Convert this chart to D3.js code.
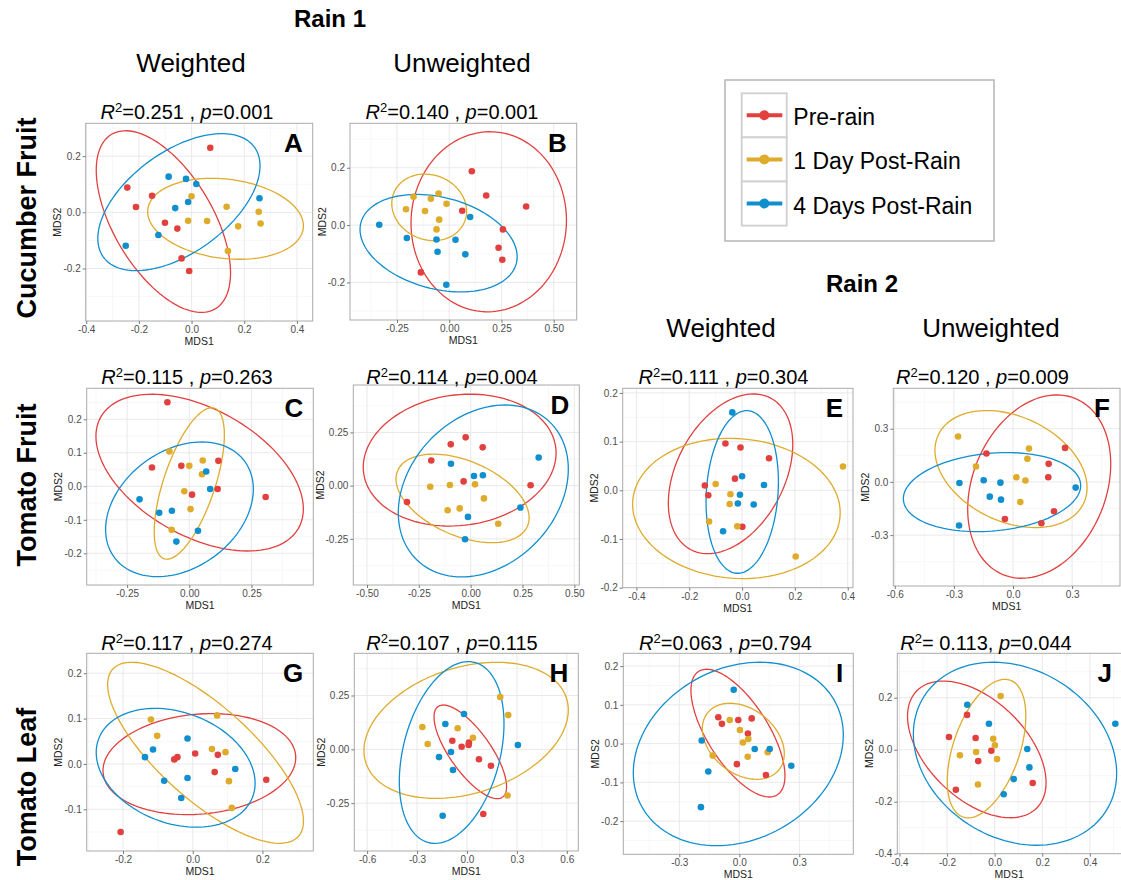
<!DOCTYPE html>
<html>
<head>
<meta charset="utf-8">
<script src="https://cdn.jsdelivr.net/npm/d3@7"></script>
<style>
  body { margin: 0; background: #fff; }
  svg { display: block; font-family: "Liberation Sans", Arial, Helvetica, sans-serif; }
</style>
</head>
<body>
<svg id="chart" width="1121" height="880"></svg>
<script>
// Sample groups and their colours
const groups = ["Pre-rain", "1 Day Post-Rain", "4 Days Post-Rain"];
const groupColors = ["#e2403f", "#dfab2a", "#108fcf"];

// Ellipses: [centre x, centre y, half width, half height, x offset of topmost point], ordered as groups

// A: Cucumber fruit, rain 1, weighted
const aPre  = [[0.071,0.230],[-0.244,0.088],[-0.211,0.019],[-0.150,0.059],[-0.101,-0.037],[-0.054,-0.058],[-0.038,-0.164],[-0.009,-0.209]];
const aDay1 = [[0.000,0.057],[0.133,0.020],[-0.013,-0.030],[0.059,-0.031],[0.177,-0.050],[0.255,0.002],[0.262,-0.040],[0.138,-0.138]];
const aDay4 = [[-0.087,0.127],[-0.021,0.119],[0.018,0.101],[-0.013,0.037],[-0.062,0.015],[-0.126,-0.081],[-0.250,-0.119],[0.258,0.050]];
const aEllipses = [[-0.107,-0.033,0.255,0.3235,-0.144],[0.129,-0.023,0.2957,0.1442,-0.052],[-0.048,0.0362,0.308,0.244,0.163]];

// B: Cucumber fruit, rain 1, unweighted
const bPre  = [[0.108,0.188],[0.177,0.103],[0.368,0.065],[0.062,0.050],[0.257,-0.015],[0.236,-0.079],[0.254,-0.121],[-0.136,-0.165]];
const bDay1 = [[-0.171,0.099],[-0.051,0.110],[-0.088,0.092],[-0.013,0.074],[-0.207,0.055],[-0.116,0.049],[-0.048,0.019],[-0.061,-0.015]];
const bDay4 = [[-0.335,0.001],[0.100,0.028],[-0.203,-0.045],[-0.061,-0.050],[0.030,-0.051],[-0.056,-0.093],[0.077,-0.102],[-0.014,-0.208]];
const bEllipses = [[0.189,0.0116,0.372,0.314,0.006],[-0.096,0.062,0.179,0.116,-0.021],[-0.051,-0.063,0.376,0.170,-0.105]];

// C: Tomato fruit, rain 1, weighted
const cPre  = [[-0.088,0.251],[-0.150,0.056],[-0.032,0.061],[0.117,0.076],[0.114,-0.008],[0.011,-0.025],[0.307,-0.032]];
const cDay1 = [[-0.080,0.104],[0.000,0.061],[0.054,0.077],[0.051,0.036],[-0.020,-0.015],[0.005,-0.068],[-0.071,-0.130]];
const cDay4 = [[0.068,0.044],[0.084,-0.008],[-0.200,-0.039],[-0.121,-0.079],[-0.070,-0.073],[0.035,-0.133],[-0.052,-0.165]];
const cEllipses = [[0.0416,0.0408,0.417,0.234,-0.193],[0.0,0.0085,0.141,0.226,0.090],[-0.0395,-0.0687,0.297,0.201,0.089]];

// D: Tomato fruit, rain 1, unweighted
const dPre  = [[-0.024,0.227],[-0.096,0.194],[0.058,0.180],[-0.190,0.118],[-0.034,0.020],[0.289,0.002],[-0.307,-0.077]];
const dDay1 = [[-0.195,-0.005],[-0.100,0.003],[0.021,0.006],[0.064,-0.060],[-0.053,-0.107],[-0.111,-0.116],[0.133,-0.179]];
const dDay4 = [[0.328,0.132],[-0.095,0.103],[0.016,0.045],[0.059,0.049],[0.240,-0.103],[-0.013,-0.147],[-0.027,-0.252]];
const dEllipses = [[-0.053,0.120,0.465,0.310,0.050],[-0.039,-0.060,0.321,0.208,-0.141],[0.061,-0.025,0.410,0.404,0.1045]];

// E: Tomato fruit, rain 2, weighted
const ePre  = [[-0.063,0.096],[-0.006,0.088],[0.102,0.066],[-0.027,0.024],[-0.141,0.010],[-0.128,-0.010],[0.001,-0.075]];
const eDay1 = [[0.382,0.049],[-0.100,0.013],[-0.044,-0.008],[-0.047,-0.028],[-0.125,-0.064],[-0.018,-0.074],[0.203,-0.136]];
const eDay4 = [[-0.037,0.160],[0.000,0.029],[0.083,0.011],[-0.008,-0.009],[-0.016,-0.027],[0.044,-0.029],[-0.072,-0.084]];
const eEllipses = [[-0.0436,0.0339,0.2356,0.164,0.0865],[-0.0215,-0.0373,0.393,0.144,-0.024],[0.0006,-0.0034,0.137,0.167,0.017]];

// F: Tomato fruit, rain 2, unweighted
const fPre  = [[0.264,0.192],[-0.135,0.160],[0.181,0.102],[0.179,0.026],[0.208,-0.166],[-0.041,-0.209],[0.144,-0.233]];
const fDay1 = [[-0.279,0.256],[0.081,0.188],[0.073,0.130],[-0.188,0.087],[0.017,0.026],[0.063,0.008],[0.037,-0.113]];
const fDay4 = [[-0.272,-0.006],[-0.149,0.009],[-0.064,-0.004],[-0.118,-0.083],[-0.061,-0.100],[0.318,-0.032],[-0.274,-0.246]];
const fEllipses = [[0.133,-0.0263,0.363,0.517,0.089],[-0.0102,0.0724,0.386,0.330,-0.1235],[-0.1066,-0.0574,0.450,0.223,0.0745]];

// G: Tomato leaf, rain 1, weighted
const gPre  = [[0.007,0.023],[-0.044,0.015],[-0.053,0.010],[0.072,0.020],[0.063,-0.018],[0.211,-0.035],[-0.207,-0.150]];
const gDay1 = [[-0.120,0.098],[0.070,0.107],[-0.102,0.062],[0.055,0.033],[0.094,0.026],[0.104,-0.038],[0.112,-0.097]];
const gDay4 = [[-0.015,0.056],[-0.114,0.032],[-0.137,0.015],[0.122,-0.011],[-0.082,-0.037],[-0.015,-0.031],[-0.033,-0.075]];
const gEllipses = [[0.019,-0.0004,0.2766,0.1114,0.0354],[0.0368,0.0246,0.281,0.1996,-0.212],[-0.049,-0.0085,0.228,0.131,-0.0589]];

// H: Tomato leaf, rain 1, unweighted
const hPre  = [[-0.088,0.040],[0.012,0.031],[0.010,0.020],[-0.032,0.012],[0.072,-0.046],[0.144,-0.076],[0.098,-0.300]];
const hDay1 = [[0.200,0.243],[0.248,0.159],[-0.268,0.104],[-0.056,0.098],[0.036,0.054],[-0.236,0.025],[0.244,-0.214]];
const hDay4 = [[-0.018,0.164],[-0.130,0.118],[0.306,0.020],[-0.096,-0.012],[-0.168,-0.036],[-0.084,-0.096],[-0.146,-0.308]];
const hEllipses = [[0.020,-0.0116,0.218,0.2175,-0.162],[-0.005,0.0882,0.614,0.316,0.183],[-0.092,-0.0147,0.3145,0.422,0.100]];

// I: Tomato leaf, rain 2, weighted
const iPre  = [[-0.105,0.068],[-0.087,0.051],[-0.005,0.061],[0.062,0.065],[0.043,0.026],[-0.012,-0.053],[0.133,-0.081]];
const iDay1 = [[-0.048,0.061],[0.003,0.035],[0.045,0.012],[0.018,0.003],[-0.133,-0.031],[0.042,-0.034],[0.142,-0.022]];
const iDay4 = [[-0.028,0.139],[-0.188,0.008],[0.077,-0.014],[0.152,-0.014],[0.260,-0.057],[-0.155,-0.072],[-0.192,-0.164]];
const iEllipses = [[-0.0067,0.0271,0.235,0.1648,-0.157],[0.020,0.006,0.205,0.0981,-0.0667],[-0.005,-0.0267,0.525,0.2367,0.108]];

// J: Tomato leaf, rain 2, unweighted
const jPre  = [[-0.116,0.134],[-0.192,0.049],[-0.080,0.045],[-0.014,-0.004],[-0.069,-0.044],[0.160,-0.128],[-0.163,-0.154]];
const jDay1 = [[0.025,0.207],[-0.006,0.042],[0.001,0.017],[-0.078,-0.009],[-0.146,-0.021],[0.010,-0.036],[-0.070,-0.134]];
const jDay4 = [[-0.115,0.173],[-0.024,0.100],[0.137,0.003],[0.146,-0.068],[0.080,-0.113],[0.038,-0.171],[0.507,0.100]];
const jEllipses = [[-0.075,0.0013,0.291,0.263,-0.141],[-0.034,0.0045,0.165,0.2665,0.077],[0.0855,-0.0154,0.427,0.352,-0.091]];

// PERMANOVA statistics shown above each panel
const r2Labels = ["=0.251 , ", "=0.140 , ", "=0.115 , ", "=0.114 , ", "=0.111 , ", "=0.120 , ", "=0.117 , ", "=0.107 , ", "=0.063 , ", "= 0.113, "];
const pLabels  = ["=0.001", "=0.001", "=0.263", "=0.004", "=0.304", "=0.009", "=0.274", "=0.115", "=0.794", "=0.044"];

// Axis tick labels
const xTickLabels = [
  ["-0.4","-0.2","0.0","0.2","0.4"],
  ["-0.25","0.00","0.25","0.50"],
  ["-0.25","0.00","0.25"],
  ["-0.50","-0.25","0.00","0.25","0.50"],
  ["-0.4","-0.2","0.0","0.2","0.4"],
  ["-0.6","-0.3","0.0","0.3"],
  ["-0.2","0.0","0.2"],
  ["-0.6","-0.3","0.0","0.3","0.6"],
  ["-0.3","0.0","0.3"],
  ["-0.4","-0.2","0.0","0.2","0.4"]
];
const yTickLabels = [
  ["-0.2","0.0","0.2"],
  ["-0.2","0.0","0.2"],
  ["-0.2","-0.1","0.0","0.1","0.2"],
  ["-0.25","0.00","0.25"],
  ["-0.2","-0.1","0.0","0.1","0.2"],
  ["-0.3","0.0","0.3"],
  ["-0.1","0.0","0.1","0.2"],
  ["-0.25","0.00","0.25"],
  ["-0.2","-0.1","0.0","0.1","0.2"],
  ["-0.4","-0.2","0.0","0.2"]
];

// Visible axis ranges
const xDomains = [[-0.402,0.46],[-0.475,0.61],[-0.4125,0.4986],[-0.566,0.524],[-0.452,0.42],[-0.6076,0.543],[-0.3043,0.346],[-0.677,0.669],[-0.58,0.57],[-0.409,0.535]];
const yDomains = [[-0.387,0.317],[-0.331,0.355],[-0.2946,0.2925],[-0.467,0.473],[-0.2,0.2095],[-0.587,0.528],[-0.192,0.244],[-0.472,0.446],[-0.2856,0.233],[-0.4,0.371]];

const panelLetters = ["A","B","C","D","E","F","G","H","I","J"];
const panelPoints = [
  [aPre,aDay1,aDay4],[bPre,bDay1,bDay4],[cPre,cDay1,cDay4],[dPre,dDay1,dDay4],[ePre,eDay1,eDay4],
  [fPre,fDay1,fDay4],[gPre,gDay1,gDay4],[hPre,hDay1,hDay4],[iPre,iDay1,iDay4],[jPre,jDay1,jDay4]
];
const panelEllipses = [aEllipses,bEllipses,cEllipses,dEllipses,eEllipses,fEllipses,gEllipses,hEllipses,iEllipses,jEllipses];

// Layout: panel rectangles [left, top, right, bottom] and title anchors
const panelBoxes = [
  [85.7,123.3,312.7,321],[350,123.3,576.7,320],
  [86.7,388.3,313.3,585],[353.3,385,579.3,585],[622.7,388.3,853,587.7],[893.3,388.3,1120,586],
  [86.7,653.3,313.3,851],[354.3,653.3,578.3,851],[623.3,653.3,853.3,854.3],[897.3,653.3,1122,853.7]
];
const titleAnchors = [[187,119],[452,119],[187,384],[452,384],[723.5,384],[982.5,384],[187,650],[452,650],[725.5,650],[986,650]];

const svg = d3.select("#chart");
const defs = svg.append("defs");

function ellipsePoints(e) {
  const [cx, cy, w, H, topDx] = e;
  const k = topDx * H / w;
  const h = Math.sqrt(Math.max(H * H - k * k, 0));
  return d3.range(0, 121).map(i => {
    const t = i / 120 * 2 * Math.PI;
    return [cx + w * Math.cos(t), cy + k * Math.cos(t) + h * Math.sin(t)];
  });
}

function minorValues(ticks, dom) {
  const step = ticks[1] - ticks[0];
  const out = [];
  for (let v = ticks[0] - step * 4.5; v <= dom[1] + 1e-9; v += step) {
    if (v >= dom[0]) out.push(v);
  }
  return out;
}

panelLetters.forEach((letter, i) => {
  const [x0, y0, x1, y1] = panelBoxes[i];
  const x = d3.scaleLinear().domain(xDomains[i]).range([x0, x1]);
  const y = d3.scaleLinear().domain(yDomains[i]).range([y1, y0]);
  const xt = xTickLabels[i].map(Number);
  const yt = yTickLabels[i].map(Number);
  const g = svg.append("g");

  defs.append("clipPath").attr("id", "clip-" + letter)
    .append("rect").attr("x", x0).attr("y", y0).attr("width", x1 - x0).attr("height", y1 - y0);

  g.append("rect").attr("x", x0).attr("y", y0).attr("width", x1 - x0).attr("height", y1 - y0).attr("fill", "#fff");

  const grid = g.append("g").attr("clip-path", `url(#clip-${letter})`);
  // minor grid
  grid.selectAll(".mx").data(minorValues(xt, xDomains[i])).join("line")
    .attr("x1", d => x(d)).attr("x2", d => x(d)).attr("y1", y0).attr("y2", y1)
    .attr("stroke", "#f3f3f3").attr("stroke-width", 0.7);
  grid.selectAll(".my").data(minorValues(yt, yDomains[i])).join("line")
    .attr("y1", d => y(d)).attr("y2", d => y(d)).attr("x1", x0).attr("x2", x1)
    .attr("stroke", "#f3f3f3").attr("stroke-width", 0.7);
  // major grid
  grid.selectAll(".gx").data(xt).join("line")
    .attr("x1", d => x(d)).attr("x2", d => x(d)).attr("y1", y0).attr("y2", y1)
    .attr("stroke", "#e6e6e6").attr("stroke-width", 0.9);
  grid.selectAll(".gy").data(yt).join("line")
    .attr("y1", d => y(d)).attr("y2", d => y(d)).attr("x1", x0).attr("x2", x1)
    .attr("stroke", "#e6e6e6").attr("stroke-width", 0.9);

  // ellipses
  const line = d3.line().x(d => x(d[0])).y(d => y(d[1])).curve(d3.curveLinearClosed);
  grid.selectAll(".ell").data(panelEllipses[i]).join("path")
    .attr("d", e => line(ellipsePoints(e)))
    .attr("fill", "none")
    .attr("stroke", (e, gi) => groupColors[gi])
    .attr("stroke-width", 1.3);

  // sample points
  panelPoints[i].forEach((pts, gi) => {
    grid.selectAll(".pt" + gi).data(pts).join("circle")
      .attr("cx", d => x(d[0])).attr("cy", d => y(d[1])).attr("r", 3.3)
      .attr("fill", groupColors[gi]);
  });

  // border
  g.append("rect").attr("x", x0).attr("y", y0).attr("width", x1 - x0).attr("height", y1 - y0)
    .attr("fill", "none").attr("stroke", "#ababab").attr("stroke-width", 1);

  // axes
  const xAxis = d3.axisBottom(x).tickValues(xt).tickFormat((d, k) => xTickLabels[i][k]).tickSize(3).tickPadding(2);
  const yAxis = d3.axisLeft(y).tickValues(yt).tickFormat((d, k) => yTickLabels[i][k]).tickSize(3).tickPadding(2);
  const gx = g.append("g").attr("transform", `translate(0,${y1})`).call(xAxis);
  const gy = g.append("g").attr("transform", `translate(${x0},0)`).call(yAxis);
  [gx, gy].forEach(ax => {
    ax.select(".domain").remove();
    ax.selectAll(".tick line").attr("stroke", "#7a7a7a");
    ax.selectAll(".tick text").attr("fill", "#4d4d4d")
      .style("font-size", "10px").style("font-family", "'Liberation Sans', Arial, sans-serif");
  });

  let maxW = 0;
  gy.selectAll(".tick text").each(function () { maxW = Math.max(maxW, this.getComputedTextLength()); });

  g.append("text").attr("x", (x0 + Math.min(x1, 1121)) / 2).attr("y", y1 + 24)
    .attr("text-anchor", "middle").style("font-size", "10.5px").attr("fill", "#222").text("MDS1");
  g.append("text").attr("transform", `translate(${x0 - 7 - maxW},${(y0 + y1) / 2}) rotate(-90)`)
    .attr("text-anchor", "middle").style("font-size", "10.5px").attr("fill", "#222").text("MDS2");

  // panel letter
  g.append("text").attr("x", x1 - 10).attr("y", y0 + 29).attr("text-anchor", "end")
    .style("font-size", "26px").style("font-weight", "bold").attr("fill", "#000").text(letter);

  // statistics title
  const [tx, ty] = titleAnchors[i];
  const t = g.append("text").attr("x", tx).attr("y", ty).attr("text-anchor", "middle")
    .style("font-size", "20px").attr("fill", "#000");
  t.append("tspan").style("font-style", "italic").text("R");
  t.append("tspan").attr("dy", -7).style("font-size", "13px").text("2");
  t.append("tspan").attr("dy", 7).text(r2Labels[i]);
  t.append("tspan").style("font-style", "italic").text("p");
  t.append("tspan").text(pLabels[i]);
});

// Column and row headers
const headers = [
  {text: "Rain 1", x: 330, y: 27, size: 24, bold: true},
  {text: "Weighted", x: 191, y: 72, size: 26, bold: false},
  {text: "Unweighted", x: 462, y: 72, size: 26, bold: false},
  {text: "Rain 2", x: 862, y: 292, size: 24, bold: true},
  {text: "Weighted", x: 721, y: 337, size: 26, bold: false},
  {text: "Unweighted", x: 991, y: 337, size: 26, bold: false}
];
svg.selectAll(".hdr").data(headers).join("text")
  .attr("x", d => d.x).attr("y", d => d.y).attr("text-anchor", "middle")
  .style("font-size", d => d.size + "px").style("font-weight", d => d.bold ? "bold" : "normal")
  .attr("fill", "#000").text(d => d.text);

const rowLabels = [
  {text: "Cucumber Fruit", y: 218},
  {text: "Tomato Fruit", y: 485},
  {text: "Tomato Leaf", y: 787}
];
svg.selectAll(".row").data(rowLabels).join("text")
  .attr("transform", d => `translate(36,${d.y}) rotate(-90)`)
  .attr("text-anchor", "middle").style("font-size", "27px").style("font-weight", "bold")
  .attr("fill", "#000").text(d => d.text);

// Legend
const legend = svg.append("g");
legend.append("rect").attr("x", 725).attr("y", 80).attr("width", 269).attr("height", 161)
  .attr("fill", "#fff").attr("stroke", "#b5b5b5").attr("stroke-width", 1.5);
groups.forEach((name, gi) => {
  const top = 93.3 + gi * 44.1;
  const cy = top + 22;
  legend.append("rect").attr("x", 741.7).attr("y", top).attr("width", 45).attr("height", 44.1)
    .attr("fill", "#fff").attr("stroke", "#cfcfcf").attr("stroke-width", 1.8);
  legend.append("line").attr("x1", 746.7).attr("x2", 782.3).attr("y1", cy).attr("y2", cy)
    .attr("stroke", groupColors[gi]).attr("stroke-width", 4);
  legend.append("circle").attr("cx", 764.3).attr("cy", cy).attr("r", 5).attr("fill", groupColors[gi]);
  legend.append("text").attr("x", 793.3).attr("y", cy + 10).style("font-size", "23px")
    .attr("fill", "#000").text(name);
});
</script>
</body>
</html>
